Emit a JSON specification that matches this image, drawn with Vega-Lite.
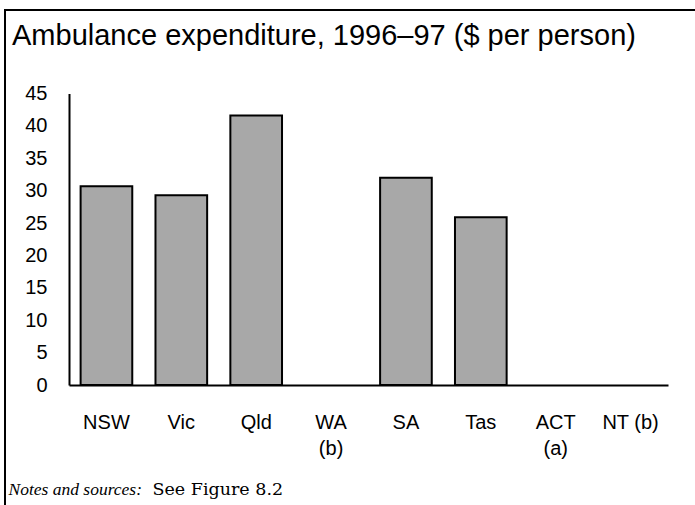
{
  "$schema": "https://vega.github.io/schema/vega-lite/v6.json",
  "autosize": "none",
  "padding": {"left": 5, "top": 10, "right": 0, "bottom": 0},
  "width": 692,
  "height": 497,
  "background": "white",
  "config": {
    "view": {"stroke": "black", "strokeWidth": 2},
    "font": "Liberation Sans"
  },
  "title": {
    "text": "Ambulance expenditure, 1996–97 ($ per person)",
    "anchor": "start",
    "frame": "group",
    "orient": "top",
    "baseline": "top",
    "offset": -41,
    "dx": 7,
    "font": "Liberation Sans",
    "fontSize": 29,
    "fontWeight": "normal",
    "color": "black"
  },
  "data": {
    "values": [
      {"state": "NSW", "value": 30.7},
      {"state": "Vic", "value": 29.3},
      {"state": "Qld", "value": 41.6},
      {"state": "WA\n(b)", "value": null},
      {"state": "SA", "value": 32.0},
      {"state": "Tas", "value": 25.9},
      {"state": "ACT\n(a)", "value": null},
      {"state": "NT (b)", "value": null}
    ]
  },
  "mark": {"type": "bar", "fill": "#a8a8a8", "stroke": "black", "strokeWidth": 2},
  "encoding": {
    "x": {
      "field": "state",
      "type": "nominal",
      "sort": null,
      "scale": {
        "domain": ["NSW", "Vic", "Qld", "WA\n(b)", "SA", "Tas", "ACT\n(a)", "NT (b)"],
        "range": [64, 663],
        "paddingInner": 0.31,
        "paddingOuter": 0.155
      },
      "axis": {
        "orient": "bottom",
        "offset": -122,
        "labelAngle": 0,
        "labelExpr": "split(datum.label, '\\n')",
        "labelLineHeight": 26,
        "labelFont": "Liberation Sans",
        "labelFontSize": 20,
        "labelColor": "black",
        "labelPadding": 27,
        "ticks": false,
        "domainColor": "black",
        "domainWidth": 2,
        "title": "Notes and sources:",
        "titleFont": "Liberation Serif",
        "titleFontStyle": "italic",
        "titleFontWeight": "normal",
        "titleFontSize": 17.5,
        "titleColor": "black",
        "titleAnchor": null,
        "titleAlign": "left",
        "titleBaseline": "alphabetic",
        "titleX": 3,
        "titleY": 109
      }
    },
    "y": {
      "field": "value",
      "type": "quantitative",
      "scale": {"domain": [0, 45], "range": [375, 83.5], "nice": false, "zero": true},
      "axis": {
        "orient": "left",
        "offset": -64,
        "values": [0, 5, 10, 15, 20, 25, 30, 35, 40, 45],
        "grid": false,
        "ticks": false,
        "labelFont": "Liberation Sans",
        "labelFontSize": 20,
        "labelColor": "black",
        "labelPadding": 22,
        "domainColor": "black",
        "domainWidth": 2,
        "title": "See Figure 8.2",
        "titleFont": "DejaVu Serif",
        "titleFontStyle": "normal",
        "titleFontWeight": "normal",
        "titleFontSize": 17.5,
        "titleColor": "black",
        "titleAngle": 0,
        "titleAnchor": null,
        "titleAlign": "left",
        "titleBaseline": "alphabetic",
        "titleX": 83,
        "titleY": 484
      }
    }
  }
}
